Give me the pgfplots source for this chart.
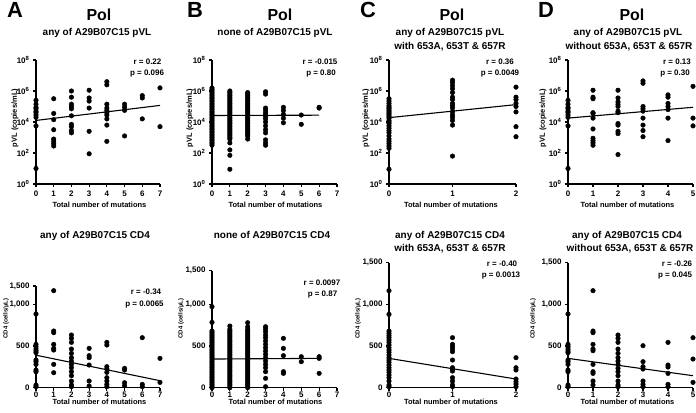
\documentclass[border=0pt]{standalone}
\usepackage{fontspec}
\setmainfont{Liberation Sans}
\usepackage{pgfplots}
\pgfplotsset{compat=1.18}
\pgfplotsset{
  prism/.style={
    scale only axis, anchor=south west, clip=false,
    axis lines*=left,
    axis line style={line width=1.4bp, black},
    tick style={line width=1.1bp, black},
    tick align=outside, major tick length=3bp,
    xmin=0, ymin=0,
    tick label style={font=\bfseries\fontsize{8}{9}\selectfont},
    /pgf/number format/assume math mode=true,
  },
  vl/.style={prism, ymax=8, height=124bp, ytick={0,2,4,6,8},
    yticklabels={10\textsuperscript{0},10\textsuperscript{2},10\textsuperscript{4},10\textsuperscript{6},10\textsuperscript{8}}},
  cd/.style={prism, xticklabel style={yshift=2.5bp}},
  dots/.style={only marks, mark=*, mark size=2.3bp, black},
  fit/.style={no marks, line width=1.1bp, black},
}
\begin{document}
\begin{tikzpicture}
\useasboundingbox (0,0) rectangle (696bp,413bp);
% ---------- top row: pVL (log10 values) ----------
\begin{axis}[vl, at={(36bp,229bp)}, width=124bp, xmax=7, xtick={0,...,7}]
\addplot[dots] coordinates {(0,5.4)(0,5.15)(0,4.95)(0,4.85)(0,4.7)(0,4.6)(0,4.45)(0,4.3)(0,3.75)(0,1.0)
(1,5.5)(1,4.55)(1,4.15)(1,3.5)(1,2.9)(1,2.75)(1,2.6)(1,2.45)
(2,6.0)(2,5.6)(2,5.15)(2,5.0)(2,4.85)(2,4.4)(2,3.85)(2,3.7)(2,3.45)(2,3.3)
(3,6.05)(3,5.55)(3,5.35)(3,4.9)(3,3.4)(3,1.95)
(4,6.6)(4,6.4)(4,5.15)(4,4.9)(4,4.75)(4,4.6)(4,4.45)(4,4.2)(4,3.8)(4,2.75)
(5,5.15)(5,4.95)(5,4.75)(5,3.1)
(6,5.7)(6,5.55)(6,4.2)
(7,6.2)(7,3.7)};
\addplot[fit] coordinates {(0,4.1)(7,5.07)};
\end{axis}
\begin{axis}[vl, at={(212bp,229bp)}, width=125bp, xmax=7, xtick={0,...,7}]
\addplot[dots] coordinates {(0,6.2)(0,6.1)(0,6.0)(0,5.9)(0,5.8)(0,5.7)(0,5.6)(0,5.5)(0,5.4)(0,5.3)(0,5.2)(0,5.1)(0,5.0)(0,4.9)(0,4.8)(0,4.7)(0,4.6)(0,4.5)(0,4.4)(0,4.3)(0,4.2)(0,4.1)(0,4.0)(0,3.9)(0,3.8)(0,3.7)(0,3.6)(0,3.5)(0,3.4)(0,3.3)(0,3.2)(0,3.1)(0,3.0)(0,2.9)(0,2.8)(0,2.7)(0,2.6)(0,2.5)
(1,6.0)(1,5.9)(1,5.8)(1,5.7)(1,5.6)(1,5.5)(1,5.4)(1,5.3)(1,5.2)(1,5.1)(1,5.0)(1,4.9)(1,4.8)(1,4.7)(1,4.6)(1,4.5)(1,4.4)(1,4.3)(1,4.2)(1,4.1)(1,4.0)(1,3.9)(1,3.8)(1,3.7)(1,3.6)(1,3.5)(1,3.4)(1,3.3)(1,3.2)(1,3.1)(1,3.0)(1,2.9)(1,2.65)(1,2.2)(1,1.85)(1,0.95)
(2,5.9)(2,5.8)(2,5.7)(2,5.6)(2,5.5)(2,5.4)(2,5.3)(2,5.2)(2,5.1)(2,5.0)(2,4.9)(2,4.8)(2,4.7)(2,4.6)(2,4.5)(2,4.4)(2,4.3)(2,4.2)(2,4.1)(2,4.0)(2,3.9)(2,3.8)(2,3.7)(2,3.6)(2,3.5)(2,3.4)(2,3.3)(2,3.2)(2,3.1)(2,2.9)
(3,5.95)(3,5.8)(3,4.9)(3,4.75)(3,4.6)(3,4.45)(3,4.35)(3,4.2)(3,4.0)(3,3.75)(3,3.5)(3,3.3)(3,2.85)(3,2.65)(3,2.5)
(4,4.95)(4,4.75)(4,4.5)(4,4.25)(4,3.95)
(5,4.45)(5,3.85)
(6,4.95)(6,4.9)};
\addplot[fit] coordinates {(0,4.42)(6,4.44)};
\end{axis}
\begin{axis}[vl, at={(389bp,229bp)}, width=127bp, xmax=2, xtick={0,1,2}]
\addplot[dots] coordinates {(0,5.5)(0,5.35)(0,5.2)(0,5.05)(0,4.95)(0,4.85)(0,4.75)(0,4.65)(0,4.55)(0,4.45)(0,4.35)(0,4.25)(0,4.1)(0,4.0)(0,3.9)(0,3.75)(0,3.6)(0,3.45)(0,3.3)(0,3.1)(0,2.9)(0,2.75)(0,2.6)(0,2.45)(0,2.3)(0,0.95)
(1,6.7)(1,6.55)(1,6.35)(1,6.15)(1,5.9)(1,5.6)(1,5.45)(1,5.2)(1,5.05)(1,4.9)(1,4.65)(1,4.45)(1,4.3)(1,4.1)(1,3.8)(1,1.8)
(2,6.25)(2,5.6)(2,5.45)(2,5.2)(2,5.0)(2,4.65)(2,3.7)(2,3.05)};
\addplot[fit] coordinates {(0,4.28)(2,5.12)};
\end{axis}
\begin{axis}[vl, at={(568bp,229bp)}, width=125bp, xmax=5, xtick={0,...,5}]
\addplot[dots] coordinates {(0,5.4)(0,5.15)(0,4.95)(0,4.85)(0,4.7)(0,4.6)(0,4.45)(0,4.3)(0,3.75)(0,1.0)
(1,6.05)(1,5.6)(1,5.5)(1,4.6)(1,4.55)(1,4.25)(1,3.55)(1,2.95)(1,2.8)(1,2.65)(1,2.5)
(2,6.05)(2,5.55)(2,5.3)(2,5.15)(2,5.0)(2,4.7)(2,4.6)(2,3.9)(2,3.8)(2,3.4)(2,3.25)(2,1.9)
(3,6.65)(3,6.5)(3,5.0)(3,4.85)(3,4.7)(3,4.25)(3,3.8)(3,3.45)(3,3.05)
(4,5.75)(4,5.6)(4,5.2)(4,5.0)(4,4.8)(4,4.25)(4,2.8)
(5,6.3)(5,4.25)(5,3.75)};
\addplot[fit] coordinates {(0,4.25)(5,4.95)};
\end{axis}
% ---------- bottom row: CD4 ----------
\begin{axis}[cd, at={(36bp,25.3bp)}, width=124bp, height=101.7bp, ymax=1220, xmax=7, xtick={0,...,7},
  ytick={0,500,1000,1220}, yticklabels={0,500,{1,000},{1,500}}]
\addplot[dots] coordinates {(0,884)(0,520)(0,492)(0,464)(0,440)(0,420)(0,332)(0,312)(0,280)(0,212)(0,192)(0,32)(0,12)
(1,1164)(1,680)(1,660)(1,520)(1,472)(1,452)(1,280)(1,180)
(2,632)(2,592)(2,544)(2,464)(2,412)(2,360)(2,320)(2,280)(2,240)(2,192)(2,144)(2,80)(2,32)(2,12)
(3,472)(3,384)(3,360)(3,272)(3,80)(3,20)
(4,544)(4,512)(4,252)(4,224)(4,184)(4,120)(4,80)(4,40)(4,12)
(5,232)(5,212)(5,60)(5,24)
(6,600)(6,40)(6,12)
(7,352)(7,64)};
\addplot[fit] coordinates {(0,390)(7,84)};
\end{axis}
\begin{axis}[cd, at={(212bp,25.3bp)}, width=125bp, height=117bp, ymax=1404, xmax=7, xtick={0,...,7},
  ytick={0,500,1000,1404}, yticklabels={0,500,{1,000},{1,500}}]
\addplot[dots] coordinates {(0,0)(0,20)(0,40)(0,60)(0,80)(0,100)(0,120)(0,140)(0,160)(0,180)(0,200)(0,220)(0,240)(0,260)(0,280)(0,300)(0,320)(0,340)(0,360)(0,380)(0,400)(0,420)(0,440)(0,460)(0,480)(0,500)(0,520)(0,540)(0,560)(0,580)(0,600)(0,620)(0,640)(0,660)(0,680)(0,784)(0,972)
(1,0)(1,20)(1,40)(1,60)(1,80)(1,100)(1,120)(1,140)(1,160)(1,180)(1,200)(1,220)(1,240)(1,260)(1,280)(1,300)(1,320)(1,340)(1,360)(1,380)(1,400)(1,420)(1,440)(1,460)(1,480)(1,500)(1,520)(1,540)(1,560)(1,580)(1,600)(1,620)(1,640)(1,660)(1,680)(1,700)(1,740)
(2,0)(2,20)(2,40)(2,60)(2,80)(2,100)(2,120)(2,140)(2,160)(2,180)(2,200)(2,220)(2,240)(2,260)(2,280)(2,300)(2,320)(2,340)(2,360)(2,380)(2,400)(2,420)(2,440)(2,460)(2,480)(2,500)(2,520)(2,540)(2,560)(2,580)(2,600)(2,620)(2,640)(2,660)(2,680)(2,700)(2,730)(2,780)
(3,732)(3,704)(3,672)(3,632)(3,600)(3,560)(3,520)(3,480)(3,440)(3,400)(3,360)(3,320)(3,280)(3,240)(3,192)(3,112)(3,12)
(4,592)(4,472)(4,384)(4,192)(4,172)
(5,372)(5,312)
(6,372)(6,352)(6,172)};
\addplot[fit] coordinates {(0,344)(6,352)};
\end{axis}
\begin{axis}[cd, at={(389bp,25.3bp)}, width=127bp, height=125bp, ymax=1500, xmax=2, xtick={0,1,2},
  ytick={0,500,1000,1500}, yticklabels={0,500,{1,000},{1,500}}]
\addplot[dots] coordinates {(0,1164)(0,880)(0,680)(0,652)(0,624)(0,600)(0,572)(0,544)(0,512)(0,480)(0,452)(0,424)(0,392)(0,360)(0,332)(0,304)(0,272)(0,240)(0,212)(0,184)(0,152)(0,120)(0,80)(0,32)(0,12)
(1,600)(1,520)(1,492)(1,464)(1,432)(1,332)(1,240)(1,224)(1,200)(1,120)(1,80)(1,32)(1,12)
(2,360)(2,240)(2,212)(2,104)(2,72)(2,44)(2,12)};
\addplot[fit] coordinates {(0,352)(2,104)};
\end{axis}
\begin{axis}[cd, at={(568bp,25.3bp)}, width=125bp, height=125bp, ymax=1500, xmax=5, xtick={0,...,5},
  ytick={0,500,1000,1500}, yticklabels={0,500,{1,000},{1,500}}]
\addplot[dots] coordinates {(0,884)(0,520)(0,492)(0,464)(0,440)(0,420)(0,332)(0,312)(0,280)(0,212)(0,192)(0,32)(0,12)
(1,1164)(1,680)(1,660)(1,520)(1,464)(1,444)(1,280)(1,192)(1,172)(1,80)(1,32)
(2,632)(2,592)(2,544)(2,464)(2,412)(2,360)(2,320)(2,280)(2,232)(2,192)(2,144)(2,80)(2,32)(2,12)
(3,504)(3,312)(3,252)(3,224)(3,80)(3,40)(3,12)
(4,544)(4,272)(4,248)(4,172)(4,40)(4,12)
(5,600)(5,344)(5,64)};
\addplot[fit] coordinates {(0,352)(5,144)};
\end{axis}
% ---------- texts ----------
\begin{scope}[every node/.style={inner sep=0pt, font=\bfseries}]
\foreach \L/\x in {A/15,B/195,C/368,D/546}
  \node[anchor=base, font=\bfseries\fontsize{22}{24}\selectfont] at (\x bp,395bp) {\L};
\foreach \x in {99,280,452,632}
  \node[anchor=base, font=\bfseries\fontsize{16}{18}\selectfont] at (\x bp,392.5bp) {Pol};
\tikzset{sub/.style={anchor=base, font=\bfseries\fontsize{10}{12}\selectfont}}
\node[sub] at (97bp,377bp) {any of A29B07C15 pVL};
\node[sub] at (275bp,377bp) {none of A29B07C15 pVL};
\node[sub] at (450bp,377bp) {any of A29B07C15 pVL};
\node[sub] at (450bp,363.5bp) {with 653A, 653T \& 657R};
\node[sub] at (628bp,377bp) {any of A29B07C15 pVL};
\node[sub] at (629bp,363.5bp) {without 653A, 653T \& 657R};
\node[sub] at (95bp,174bp) {any of A29B07C15 CD4};
\node[sub] at (272bp,174bp) {none of A29B07C15 CD4};
\node[sub] at (450bp,174.5bp) {any of A29B07C15 CD4};
\node[sub] at (450bp,161.5bp) {with 653A, 653T \& 657R};
\node[sub] at (627bp,174.5bp) {any of A29B07C15 CD4};
\node[sub] at (630bp,161.5bp) {without 653A, 653T \& 657R};
\tikzset{xl/.style={anchor=base, font=\bfseries\fontsize{7.5}{9}\selectfont}}
\foreach \x in {99.5,275.5,451,627.5} {
  \node[xl] at (\x bp,205.7bp) {Total number of mutations};
  \node[xl] at (\x bp,8.5bp) {Total number of mutations};
}
\foreach \x in {15,190,366,543}
  \node[rotate=90, font=\bfseries\fontsize{7.5}{9}\selectfont] at (\x bp,295bp) {pVL (copies/mL)};
\foreach \x in {6,181,358,533}
  \node[rotate=90, font=\bfseries\fontsize{6}{7}\selectfont] at (\x bp,94.5bp) {CD4 (cells/µL)};
\tikzset{rp/.style={anchor=base, font=\bfseries\fontsize{8}{9}\selectfont}}
\node[rp] at (147.5bp,348bp) {r = 0.22};
\node[rp] at (147bp,337bp) {p = 0.096};
\node[rp] at (320bp,348bp) {r = -0.015};
\node[rp] at (321bp,337bp) {p = 0.80};
\node[rp] at (500bp,348bp) {r = 0.36};
\node[rp] at (500bp,337bp) {p = 0.0049};
\node[rp] at (677bp,348bp) {r = 0.13};
\node[rp] at (675bp,337bp) {p = 0.30};
\node[rp] at (146bp,118bp) {r = -0.34};
\node[rp] at (144.5bp,106.5bp) {p = 0.0065};
\node[rp] at (322bp,127bp) {r = 0.0097};
\node[rp] at (322.5bp,116bp) {p = 0.87};
\node[rp] at (502bp,146bp) {r = -0.40};
\node[rp] at (501bp,135bp) {p = 0.0013};
\node[rp] at (677bp,146bp) {r = -0.26};
\node[rp] at (675bp,135bp) {p = 0.045};
\end{scope}
\end{tikzpicture}
\end{document}
